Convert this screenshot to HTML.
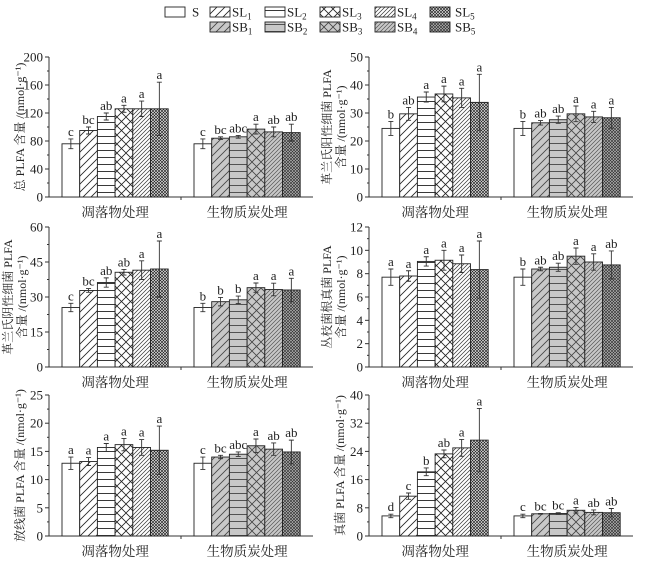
<!DOCTYPE html>
<html><head><meta charset="utf-8">
<style>
html,body{margin:0;padding:0;background:#fff;}
svg{display:block;font-family:"Liberation Serif","Noto Serif CJK SC",serif;}
</style></head>
<body>
<svg id="chart" width="646" height="565" viewBox="0 0 646 565" xmlns="http://www.w3.org/2000/svg">
<defs>
  <pattern id="p1w" patternUnits="userSpaceOnUse" width="8" height="8"><rect width="8" height="8" fill="#fff"/><path d="M-2,10 L10,-2 M-2,2 L2,-2 M6,10 L10,6" stroke="#222" stroke-width="0.8"/></pattern>
  <pattern id="p1g" patternUnits="userSpaceOnUse" width="8" height="8"><rect width="8" height="8" fill="#c8c8c8"/><path d="M-2,10 L10,-2 M-2,2 L2,-2 M6,10 L10,6" stroke="#444" stroke-width="0.8"/></pattern>
  <pattern id="p2w" patternUnits="userSpaceOnUse" width="8" height="7"><rect width="8" height="7" fill="#fff"/><path d="M0,3.5 H8" stroke="#222" stroke-width="0.9"/></pattern>
  <pattern id="p2g" patternUnits="userSpaceOnUse" width="8" height="7"><rect width="8" height="7" fill="#c8c8c8"/><path d="M0,3.5 H8" stroke="#444" stroke-width="0.9"/></pattern>
  <pattern id="p3w" patternUnits="userSpaceOnUse" width="9" height="9"><rect width="9" height="9" fill="#fff"/><path d="M0,0 L9,9 M9,0 L0,9" stroke="#222" stroke-width="0.8"/></pattern>
  <pattern id="p3g" patternUnits="userSpaceOnUse" width="9" height="9"><rect width="9" height="9" fill="#c8c8c8"/><path d="M0,0 L9,9 M9,0 L0,9" stroke="#444" stroke-width="0.8"/></pattern>
  <pattern id="p4w" patternUnits="userSpaceOnUse" width="4" height="4"><rect width="4" height="4" fill="#fff"/><path d="M-1,5 L5,-1 M-1,1 L1,-1 M3,5 L5,3" stroke="#333" stroke-width="0.7"/></pattern>
  <pattern id="p4g" patternUnits="userSpaceOnUse" width="4" height="4"><rect width="4" height="4" fill="#c8c8c8"/><path d="M-1,5 L5,-1 M-1,1 L1,-1 M3,5 L5,3" stroke="#555" stroke-width="0.7"/></pattern>
  <pattern id="p5w" patternUnits="userSpaceOnUse" width="3" height="3"><rect width="3" height="3" fill="#eee"/><path d="M0,0 L3,3 M3,0 L0,3" stroke="#222" stroke-width="0.7"/></pattern>
  <pattern id="p5g" patternUnits="userSpaceOnUse" width="3" height="3"><rect width="3" height="3" fill="#bbb"/><path d="M0,0 L3,3 M3,0 L0,3" stroke="#333" stroke-width="0.7"/></pattern>
</defs>
<g id="legend"></g>
<g id="panels"></g>
</svg>
<script>
const NS="http://www.w3.org/2000/svg";
const svg=document.getElementById('chart');
function mk(tag,attrs,parent,txt){const e=document.createElementNS(NS,tag);for(const k in attrs)e.setAttribute(k,attrs[k]);if(txt!==undefined)e.textContent=txt;parent.appendChild(e);return e;}

const groups=["凋落物处理","生物质炭处理"];
const seriesNames=["S","1","2","3","4","5"];
const totalL=[76,95,115,126,126,126], totalLe=[7,5,5,5,11,38], totalLl=["c","bc","ab","a","a","a"];
const totalB=[76,84,86,97,93,92], totalBe=[7,2,2,7,7,12], totalBl=["c","bc","abc","a","ab","ab"];
const gposL=[24.5,29.7,35.7,36.8,35.4,33.8], gposLe=[2.5,2.3,1.8,2.8,3.4,10], gposLl=["b","ab","a","a","a","a"];
const gposB=[24.5,26.5,27.6,29.7,28.6,28.3], gposBe=[2.5,0.8,1.3,2.8,2,3.7], gposBl=["b","ab","ab","a","a","a"];
const gnegL=[25.5,32.8,36.2,40.6,41.5,42], gnegLe=[1.8,0.8,2,1.2,4,12], gnegLl=["c","bc","ab","ab","a","a"];
const gnegB=[25.5,28,28.8,34,33.2,33], gnegBe=[1.8,1.8,1.6,2,2.7,5], gnegBl=["b","b","b","a","a","a"];
const amfL=[7.7,7.8,9.05,9.15,8.85,8.35], amfLe=[0.7,0.45,0.4,0.85,0.75,2.45], amfLl=["a","a","a","a","a","a"];
const amfB=[7.7,8.4,8.55,9.5,9.0,8.75], amfBe=[0.7,0.15,0.35,0.7,0.7,1.2], amfBl=["b","ab","ab","a","a","ab"];
const actL=[12.9,13.2,15.7,16.2,15.7,15.2], actLe=[1.1,0.7,0.7,1.1,1.4,4.3], actLl=["a","a","a","a","a","a"];
const actB=[12.9,14.0,14.5,16.0,15.4,14.9], actBe=[1.1,0.3,0.4,1.2,1.1,2.1], actBl=["c","bc","abc","a","ab","ab"];
const funL=[5.7,11.3,18.2,23.3,25.0,27.2], funLe=[0.5,0.9,1.1,1.1,2.4,9], funLl=["d","c","b","ab","a","a"];
const funB=[5.7,6.3,6.4,7.3,6.7,6.6], funBe=[0.5,0.1,0.2,0.8,0.7,1.2], funBl=["c","bc","bc","a","ab","ab"];
const ticksTotal=[0,40,80,120,160,200], ticksGpos=[0,10,20,30,40,50], ticksGneg=[0,15,30,45,60];
const ticksAmf=[0,2,4,6,8,10,12], ticksAct=[0,5,10,15,20,25], ticksFun=[0,8,16,24,32,40];

const panels=[
 {name:"total-plfa",ax:49,top:57,bot:197,max:200,ticks:ticksTotal,L:[totalL,totalLe,totalLl],B:[totalB,totalBe,totalBl],title:["总 PLFA 含量 /(nmol·g⁻¹)"],tx:[21]},
 {name:"gram-positive",ax:369,top:57,bot:197,max:50,ticks:ticksGpos,L:[gposL,gposLe,gposLl],B:[gposB,gposBe,gposBl],title:["革兰氏阳性细菌 PLFA","含量 /(nmol·g⁻¹)"],tx:[328,342]},
 {name:"gram-negative",ax:49,top:227,bot:367,max:60,ticks:ticksGneg,L:[gnegL,gnegLe,gnegLl],B:[gnegB,gnegBe,gnegBl],title:["革兰氏阴性细菌 PLFA","含量 /(nmol·g⁻¹)"],tx:[9,23]},
 {name:"amf",ax:369,top:227,bot:367,max:12,ticks:ticksAmf,L:[amfL,amfLe,amfLl],B:[amfB,amfBe,amfBl],title:["丛枝菌根真菌 PLFA","含量 /(nmol·g⁻¹)"],tx:[328,342]},
 {name:"actinomycetes",ax:49,top:395,bot:536,max:25,ticks:ticksAct,L:[actL,actLe,actLl],B:[actB,actBe,actBl],title:["放线菌 PLFA 含量 /(nmol·g⁻¹)"],tx:[21]},
 {name:"fungi",ax:369,top:395,bot:536,max:40,ticks:ticksFun,L:[funL,funLe,funLl],B:[funB,funBe,funBl],title:["真菌 PLFA 含量 /(nmol·g⁻¹)"],tx:[341]}
];
const fillsW=["#fff","url(#p1w)","url(#p2w)","url(#p3w)","url(#p4w)","url(#p5w)"];
const fillsG=["#fff","url(#p1g)","url(#p2g)","url(#p3g)","url(#p4g)","url(#p5g)"];
const bw=17.7;
const root=document.getElementById('panels');
panels.forEach(p=>{
  const g=mk('g',{},root);
  
  
  const y=v=>p.bot-(v/p.max)*(p.bot-p.top);
  const ya=mk('line',{x1:p.ax,y1:p.top,x2:p.ax,y2:p.bot,stroke:'#333','stroke-width':1},g);
  
  const xa=mk('line',{x1:p.ax,y1:p.bot,x2:p.ax+264,y2:p.bot,stroke:'#333','stroke-width':1},g);
  
  mk('line',{x1:p.ax+132,y1:p.bot,x2:p.ax+132,y2:p.bot+3,stroke:'#333'},g);
  p.ticks.forEach((t,i)=>{
    mk('line',{x1:p.ax-4,y1:y(t),x2:p.ax,y2:y(t),stroke:'#333'},g);
    if(i<p.ticks.length-1){const m=(p.ticks[i]+p.ticks[i+1])/2;mk('line',{x1:p.ax-2,y1:y(m),x2:p.ax,y2:y(m),stroke:'#333'},g);}
    const tl=mk('text',{x:p.ax-6,y:y(t)+4.5,'text-anchor':'end','font-size':13,fill:'#222'},g,t);
    
  });
  p.title.forEach((s,i)=>{
    const cy=(p.top+p.bot)/2;
    const tt=mk('text',{x:p.tx[i],y:cy,'text-anchor':'middle','font-size':12,fill:'#222',transform:`rotate(-90 ${p.tx[i]} ${cy})`,'dominant-baseline':'middle'},g,s);
    
  });
  [[p.L,fillsW,p.ax+13],[p.B,fillsG,p.ax+145]].forEach((grp,gi)=>{
    const [vals,errs,lets]=grp[0];
    vals.forEach((v,i)=>{
      const x=grp[2]+i*bw;
      const r=mk('rect',{x:x,y:y(v),width:bw,height:p.bot-y(v),fill:grp[1][i],stroke:'#222','stroke-width':0.9},g);
      
      
      const cx=x+bw/2, e=errs[i];
      mk('path',{d:`M${cx},${y(v+e)}V${y(v-e)}M${cx-2.5},${y(v+e)}H${cx+2.5}M${cx-2.5},${y(v-e)}H${cx+2.5}`,stroke:'#333','stroke-width':0.9,fill:'none'},g);
      const lt=mk('text',{x:cx,y:y(v+e)-3,'text-anchor':'middle','font-size':13,fill:'#222'},g,lets[i]);
      
    });
    const gl=mk('text',{x:grp[2]+3*bw,y:p.bot+20,'text-anchor':'middle','font-size':13.5,fill:'#222'},g,groups[gi]);
    
  });
});
const lg=document.getElementById('legend');
const legX=[165,210,265,320,375,430];
const labX=[192,232,287,342,397,455];
const subs=["","1","2","3","4","5"];
[[0,"SL",fillsW,12],[1,"SB",fillsG,27]].forEach(row=>{
  for(let i=0;i<6;i++){
    if(row[0]===1&&i===0)continue;
    const r=mk('rect',{x:legX[i],y:row[3]-5,width:20,height:10,fill:row[2][i],stroke:'#222','stroke-width':0.9},lg);
    
    const t=mk('text',{x:labX[i],y:row[3]+4.5,'font-size':13,fill:'#222'},lg);
    
    if(i===0){t.textContent="S";}
    else{t.textContent=row[1];mk('tspan',{'font-size':9,dy:3},t,subs[i]);}
  }
});
</script>
</body></html>
